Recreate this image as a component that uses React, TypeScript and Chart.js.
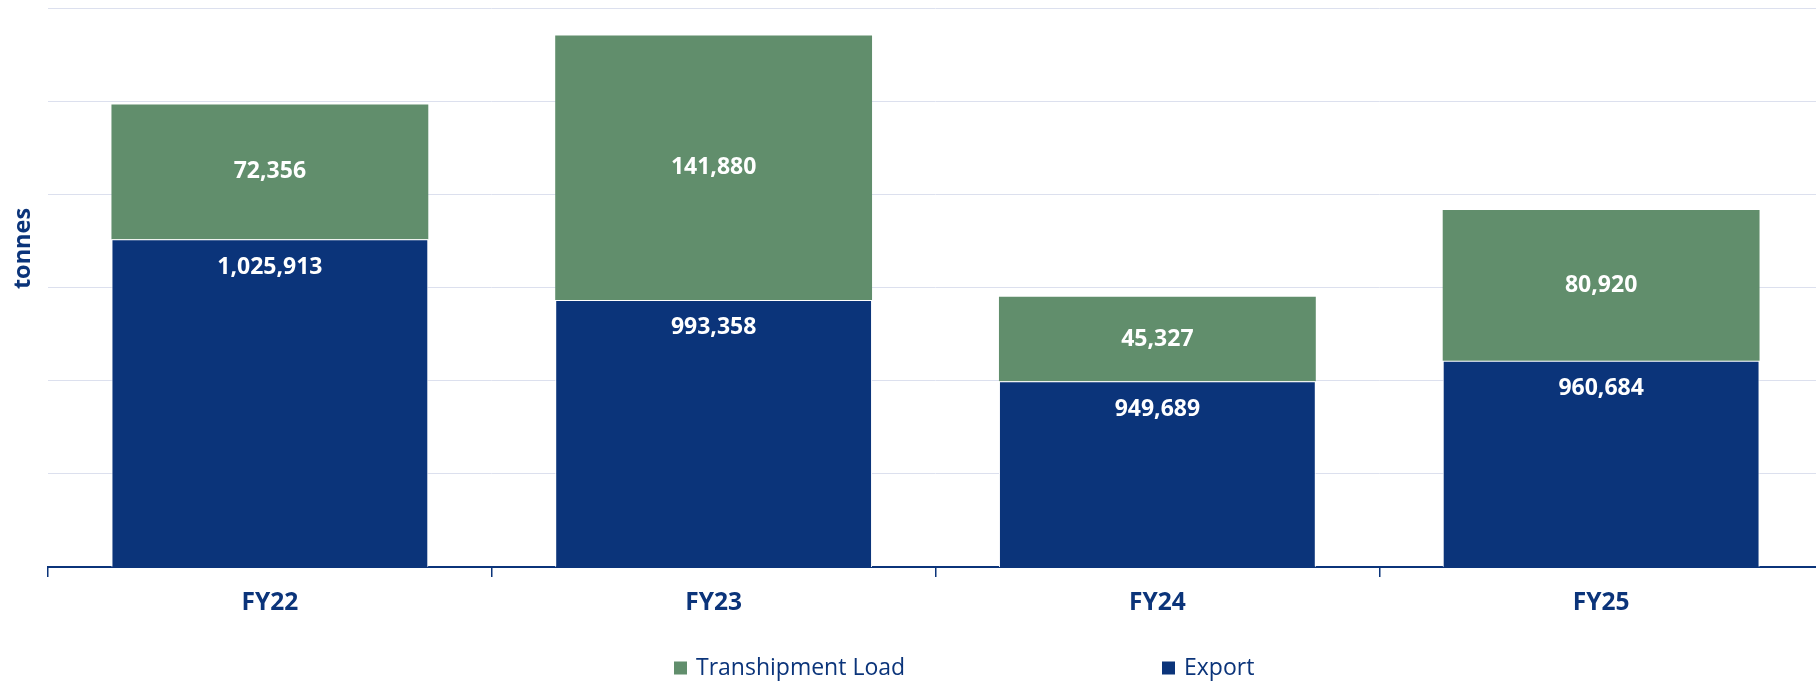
import React, { useEffect, useRef } from 'react';
import { Chart, registerables } from 'chart.js';

Chart.register(...registerables);

const categories = ['FY22', 'FY23', 'FY24', 'FY25'];
const exportValues = [1025913, 993358, 949689, 960684];
const transhipmentValues = [72356, 141880, 45327, 80920];
const yTickValues = [850000, 900000, 950000, 1000000, 1050000, 1100000, 1150000];
const seriesNames = ['Export', 'Transhipment Load'];
const legendOrder = ['Transhipment Load', 'Export'];
const yAxisTitle = 'tonnes';

const NAVY = '#0B347A';
const GREEN = '#618E6C';
const GRID = '#DCE0EE';
const FONT = '"Open Sans", "Noto Sans", sans-serif';

const fmt = (v: number) => v.toLocaleString('en-US');

const labelsPlugin = {
  id: 'barLabels',
  afterDatasetsDraw(chart: any) {
    const ctx = chart.ctx;
    ctx.save();
    ctx.fillStyle = '#ffffff';
    ctx.font = `bold 23px ${FONT}`;
    ctx.textAlign = 'center';
    ctx.textBaseline = 'middle';
    chart.data.datasets.forEach((ds: any, i: number) => {
      const meta = chart.getDatasetMeta(i);
      meta.data.forEach((bar: any, j: number) => {
        const p = bar.getProps(['x', 'y', 'base'], true);
        const v = ds.data[j] as number;
        let ty: number;
        if (ds.label === 'Transhipment Load') ty = (p.y + p.base) / 2;
        else ty = p.y + 28;
        ctx.fillText(fmt(v), p.x, ty);
      });
    });
    ctx.restore();
  },
};

const decorPlugin = {
  id: 'decor',
  afterDraw(chart: any) {
    const ctx = chart.ctx;
    ctx.save();
    // y axis title
    ctx.translate(23, 248.5);
    ctx.rotate(-Math.PI / 2);
    ctx.fillStyle = NAVY;
    ctx.font = `bold 23.5px ${FONT}`;
    ctx.textAlign = 'center';
    ctx.textBaseline = 'middle';
    ctx.fillText(yAxisTitle, 0, 0);
    ctx.restore();

    // legend
    ctx.save();
    ctx.font = `23px ${FONT}`;
    ctx.textBaseline = 'middle';
    ctx.textAlign = 'left';
    const startX = 674;
    const itemStep = 488;
    const cy = 668;
    legendOrder.forEach((name, k) => {
      const ds = chart.data.datasets.find((d: any) => d.label === name);
      const x = startX + k * itemStep;
      ctx.fillStyle = ds.backgroundColor;
      ctx.fillRect(x, cy - 6.5, 13, 13);
      ctx.fillStyle = NAVY;
      ctx.fillText(name, x + 22, cy);
    });
    ctx.restore();
  },
};

export default function App() {
  const ref = useRef<HTMLCanvasElement | null>(null);

  useEffect(() => {
    let chart: Chart | null = null;
    let cancelled = false;
    const make = () => {
      if (cancelled || !ref.current) return;
      chart = new Chart(ref.current, {
        type: 'bar',
        data: {
          labels: categories,
          datasets: [
            {
              label: seriesNames[0],
              data: exportValues,
              backgroundColor: NAVY,
              borderColor: '#ffffff',
              borderWidth: 1,
            },
            {
              label: seriesNames[1],
              data: transhipmentValues,
              backgroundColor: GREEN,
              borderColor: '#ffffff',
              borderWidth: 0,
            },
          ],
        },
        options: {
          animation: false,
          responsive: false,
          devicePixelRatio: 1,
          layout: { padding: { left: 0, right: 1, top: 8, bottom: 0 } },
          datasets: { bar: { categoryPercentage: 1, barPercentage: 0.714 } },
          plugins: {
            legend: { display: false },
            tooltip: { enabled: false },
            title: { display: false },
          },
          scales: {
            x: {
              stacked: true,
              grid: {
                offset: true,
                drawOnChartArea: false,
                drawTicks: true,
                tickLength: 10,
                color: NAVY,
                lineWidth: 1.5,
              },
              border: { display: true, color: NAVY, width: 2 },
              ticks: {
                color: NAVY,
                font: { family: FONT, size: 24.5, weight: 'bold' },
                padding: 11,
              },
              afterFit(scale: any) {
                scale.height = 115;
              },
            },
            y: {
              stacked: true,
              min: yTickValues[0],
              max: yTickValues[yTickValues.length - 1],
              ticks: { display: false, stepSize: yTickValues[1] - yTickValues[0] },
              grid: { color: GRID, lineWidth: 1, drawTicks: false },
              border: { display: false },
              afterFit(scale: any) {
                scale.width = 48;
              },
            },
          },
        },
        plugins: [labelsPlugin, decorPlugin],
      });
    };
    const fontsReady = (document as any).fonts
      ? Promise.all([
          (document as any).fonts.load(`bold 22px "Open Sans"`),
          (document as any).fonts.load(`21px "Open Sans"`),
        ]).catch(() => null)
      : Promise.resolve(null);
    fontsReady.then(make);
    return () => {
      cancelled = true;
      if (chart) chart.destroy();
    };
  }, []);

  return (
    <div
      style={{
        position: 'absolute',
        left: 0,
        top: 0,
        width: 1816,
        height: 682,
        overflow: 'hidden',
        background: '#ffffff',
      }}
    >
      <canvas ref={ref} width={1824} height={682} style={{ width: 1824, height: 682, display: 'block' }} />
    </div>
  );
}
